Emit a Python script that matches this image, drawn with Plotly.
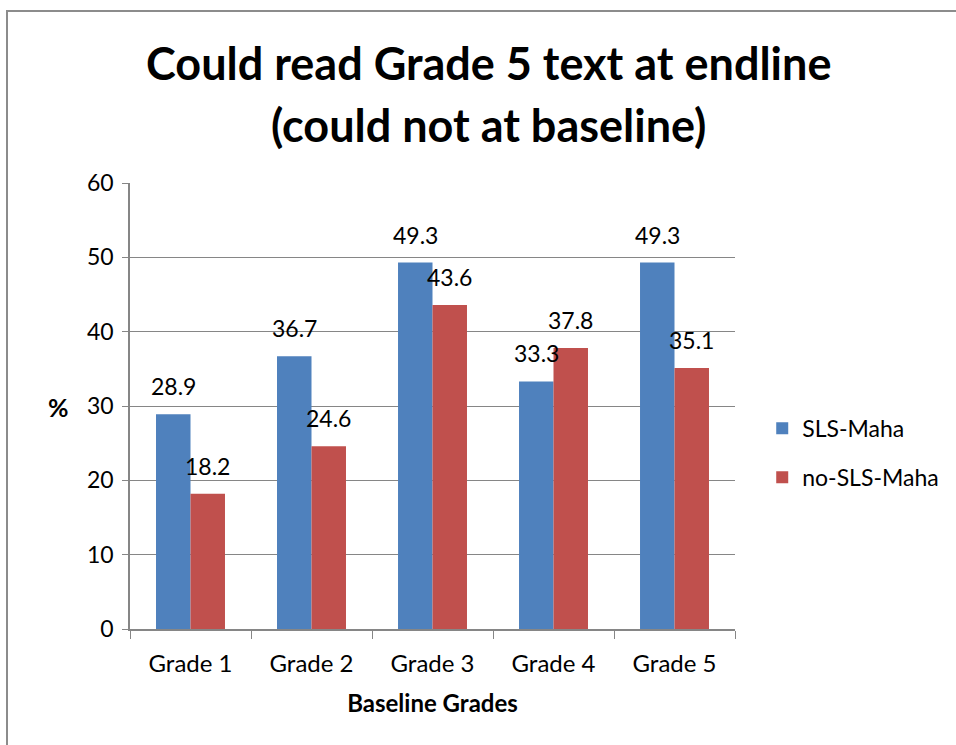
import plotly.graph_objects as go

grades = ["Grade 1", "Grade 2", "Grade 3", "Grade 4", "Grade 5"]
sls_maha = [28.9, 36.7, 49.3, 33.3, 49.3]
no_sls_maha = [18.2, 24.6, 43.6, 37.8, 35.1]
y_ticks = [0, 10, 20, 30, 40, 50, 60]

FONT = "Lato"
BLUE = "#4F81BD"
RED = "#C0504D"
GRID = "#868686"

fig = go.Figure()
fig.add_trace(go.Bar(name="SLS-Maha", x=grades, y=sls_maha, marker=dict(color=BLUE, line=dict(width=0)),
                     offsetgroup=0, legendgroup="a"))
fig.add_trace(go.Bar(name="no-SLS-Maha", x=grades, y=no_sls_maha, marker=dict(color=RED, line=dict(width=0)),
                     offsetgroup=1, legendgroup="b"))

# value labels above each bar
for i, g in enumerate(grades):
    for val, shift in ((sls_maha[i], -0.143), (no_sls_maha[i], 0.143)):
        fig.add_annotation(x=i + shift, y=val, xref="x", yref="y", text=f"{val}",
                           showarrow=False, yshift=28, font=dict(family=FONT, size=23, color="black"))

# chart title, two centred lines
for text, ypx in (("Could read Grade 5 text at endline", 63), ("(could not at baseline)", 125)):
    fig.add_annotation(x=488, y=ypx, xref="paper", yref="paper", text=f"<b>{text}</b>", showarrow=False,
                       font=dict(family=FONT, size=45, color="black"), xanchor="center", yanchor="middle")

# horizontal "%" axis title
fig.add_annotation(x=58, y=407, xref="paper", yref="paper", text="<b>%</b>", showarrow=False,
                   font=dict(family=FONT, size=25, color="black"), xanchor="center", yanchor="middle")

# outer chart border
fig.add_shape(type="rect", xref="paper", yref="paper", x0=7, x1=1100, y0=11, y1=900,
              line=dict(color="#8C8C8C", width=2), fillcolor="rgba(0,0,0,0)", layer="above")

# convert pixel positions used above into paper fractions
L, R, T, B = 130, 735, 183, 629
for a in fig.layout.annotations:
    if a.xref == "paper":
        a.x = (a.x - L) / (R - L)
        a.y = (B - a.y) / (B - T)
for s in fig.layout.shapes:
    s.x0 = (s.x0 - L) / (R - L)
    s.x1 = (s.x1 - L) / (R - L)
    s.y0, s.y1 = (B - s.y1) / (B - T), (B - s.y0) / (B - T)

fig.update_layout(
    width=956, height=745,
    margin=dict(l=L, r=956 - R, t=T, b=745 - B, autoexpand=False),
    paper_bgcolor="white", plot_bgcolor="white",
    barmode="group", bargap=0.43, bargroupgap=0,
    font=dict(family=FONT, size=23, color="black"),
    legend=dict(x=1.045, y=0.395, xanchor="left", yanchor="middle",
                font=dict(family=FONT, size=23), tracegroupgap=16, itemwidth=30),
    xaxis=dict(type="category", showline=True, linecolor=GRID, linewidth=1.5,
               ticks="outside", tickson="boundaries", ticklen=8, tickcolor=GRID,
               tickfont=dict(size=24), ticklabelstandoff=12,
               title=dict(text="<b>Baseline Grades</b>", font=dict(size=24), standoff=20)),
    yaxis=dict(range=[0, 60], tickvals=y_ticks, showline=True, linecolor=GRID, linewidth=1.5,
               showgrid=True, gridcolor=GRID, gridwidth=1,
               ticks="outside", ticklen=6, tickcolor=GRID, tickfont=dict(size=23),
               ticklabelstandoff=4, zeroline=False),
)

fig.write_html("out.html")
